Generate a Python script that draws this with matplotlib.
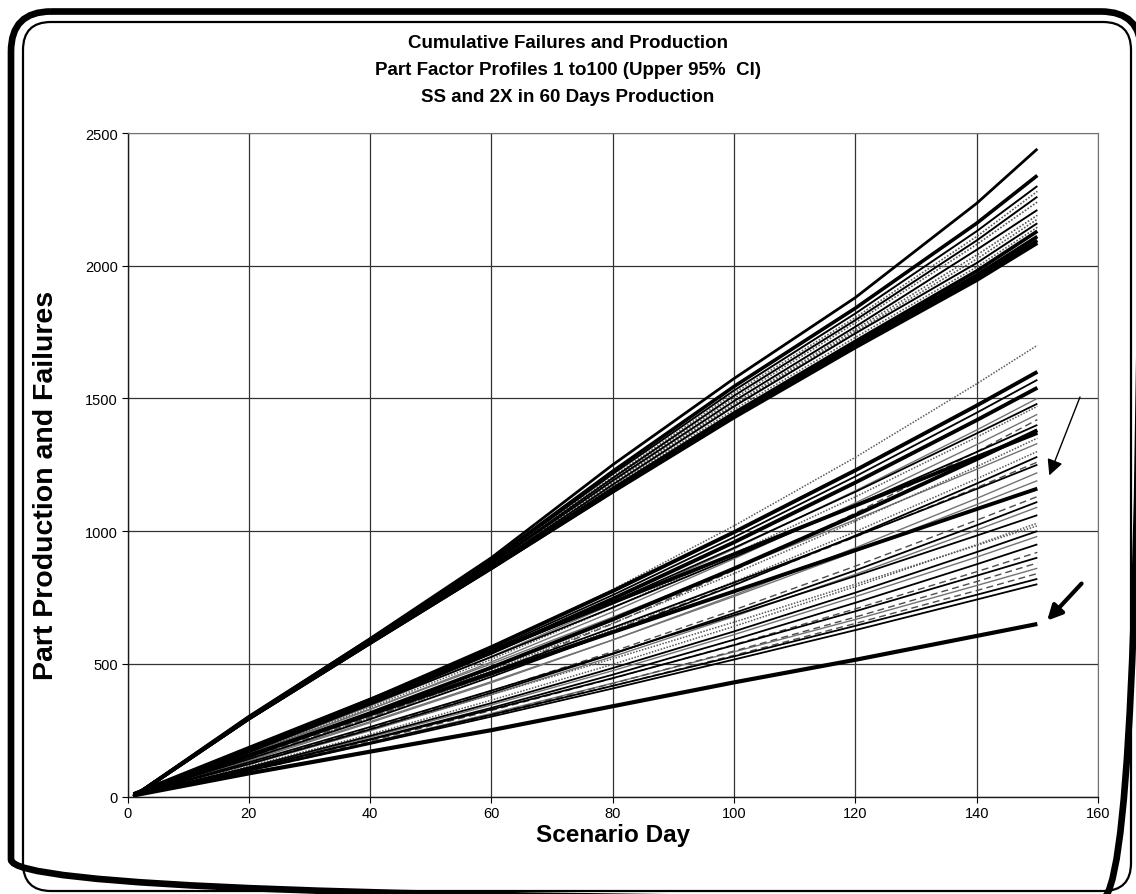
import matplotlib
matplotlib.use("Agg")
import matplotlib.pyplot as plt
from matplotlib.patches import FancyBboxPatch

plt.rcParams['font.family'] = ['Liberation Sans', 'DejaVu Sans']

days = [1, 20, 40, 60, 80, 100, 120, 140, 150]

# ---- upper bundle (production)
upper_top = [[0, 300, 595, 900, 1250, 1575, 1880, 2235, 2440]]
upper_thick = [
    [0, 300, 592, 890, 1225, 1545, 1840, 2160, 2340],
    [0, 294, 580, 865, 1160, 1445, 1715, 1980, 2130],
    [0, 294, 579, 862, 1155, 1440, 1705, 1965, 2110],
    [0, 293, 578, 860, 1150, 1432, 1698, 1955, 2095],
    [0, 293, 578, 860, 1148, 1428, 1692, 1945, 2085],
]
upper_black = [
    [0, 298, 590, 885, 1215, 1530, 1820, 2130, 2300],
    [0, 297, 588, 880, 1200, 1510, 1795, 2095, 2260],
    [0, 296, 585, 876, 1190, 1490, 1770, 2060, 2210],
    [0, 295, 582, 870, 1175, 1470, 1745, 2010, 2160],
]
upper_grey = [
    [0, 298, 588, 882, 1205, 1520, 1805, 2110, 2280],
    [0, 297, 586, 878, 1195, 1500, 1785, 2080, 2240],
    [0, 296, 584, 874, 1185, 1480, 1760, 2040, 2190],
    [0, 295, 583, 872, 1180, 1475, 1752, 2025, 2175],
    [0, 294, 581, 868, 1168, 1458, 1730, 1995, 2145],
]

# ---- lower fan (failures)
lower_thick = [
    [8, 176, 364, 563, 774, 996, 1229, 1473, 1600],
    [8, 170, 351, 542, 745, 958, 1183, 1418, 1540],
    [9, 183, 365, 548, 731, 913, 1096, 1279, 1370],
    [7, 152, 314, 486, 667, 859, 1060, 1271, 1380],
    [8, 155, 309, 464, 619, 773, 928, 1083, 1160],
]
lower_black = [
    [8, 173, 357, 553, 759, 977, 1206, 1446, 1570],
    [8, 172, 351, 539, 734, 937, 1148, 1368, 1480],
    [8, 171, 346, 526, 712, 902, 1098, 1298, 1400],
    [7, 141, 291, 451, 619, 796, 983, 1179, 1280],
    [8, 152, 309, 470, 636, 806, 980, 1159, 1250],
    [6, 122, 253, 391, 537, 691, 852, 1022, 1110],
    [6, 129, 262, 399, 539, 683, 831, 983, 1060],
    [5, 110, 228, 352, 484, 622, 768, 921, 1000],
    [5, 105, 216, 334, 459, 591, 730, 875, 950],
    [5, 104, 214, 328, 446, 570, 698, 832, 900],
    [5, 100, 203, 308, 417, 528, 643, 760, 820],
    [5, 97, 198, 301, 407, 516, 627, 742, 800],
]
lower_dotted = [
    [8, 168, 354, 558, 780, 1020, 1278, 1555, 1700],
    [8, 162, 335, 517, 711, 915, 1129, 1354, 1470],
    [7, 149, 307, 475, 653, 840, 1037, 1243, 1350],
    [7, 143, 296, 458, 629, 809, 998, 1197, 1300],
    [5, 114, 234, 363, 498, 641, 791, 949, 1030],
    [6, 124, 252, 384, 519, 657, 800, 946, 1020],
]
lower_dashed = [
    [7, 140, 295, 466, 651, 852, 1068, 1299, 1420],
    [7, 146, 299, 459, 625, 798, 978, 1164, 1260],
    [6, 125, 257, 398, 546, 703, 868, 1041, 1130],
    [5, 101, 209, 324, 445, 572, 707, 847, 920],
    [5, 97, 200, 310, 426, 548, 676, 810, 880],
    [5, 97, 199, 306, 417, 532, 652, 776, 840],
]
lower_grey = [
    [8, 165, 341, 528, 725, 933, 1152, 1381, 1500],
    [8, 159, 328, 507, 696, 896, 1106, 1326, 1440],
    [8, 162, 329, 500, 676, 857, 1043, 1233, 1330],
    [6, 134, 278, 429, 590, 759, 937, 1123, 1220],
    [7, 138, 282, 433, 590, 754, 923, 1100, 1190],
    [6, 120, 248, 384, 527, 678, 837, 1004, 1090],
    [5, 108, 223, 345, 474, 610, 753, 902, 980],
    [5, 100, 204, 313, 427, 545, 667, 795, 860],
]
base_line = [4, 87, 169, 250, 340, 430, 515, 605, 650]

title_lines = ["Cumulative Failures and Production",
               "Part Factor Profiles 1 to100 (Upper 95%  CI)",
               "SS and 2X in 60 Days Production"]

W, H = 1136, 895
fig = plt.figure(figsize=(W / 100, H / 100), dpi=100)

# rounded double frame, drawn in pixel coords
bg = fig.add_axes([0, 0, 1, 1], zorder=0)
bg.set_xlim(0, W)
bg.set_ylim(H, 0)
bg.axis('off')
bg.add_patch(FancyBboxPatch((11, 12.5), 1130, 888, boxstyle="round,pad=0,rounding_size=40",
                            fc='none', ec='black', lw=4.8))
bg.add_patch(FancyBboxPatch((23, 23), 1108, 869, boxstyle="round,pad=0,rounding_size=28",
                            fc='none', ec='black', lw=1.6))

for i, t in enumerate(title_lines):
    bg.text(568, 43 + 27 * i, t, ha='center', va='center', fontsize=13.5, fontweight='bold')

ax = fig.add_axes([127.5 / W, 1 - 797.5 / H, 970.5 / W, 663.5 / H], zorder=1)

def draw(group, **kw):
    for vals in group:
        ax.plot(days, vals, solid_capstyle='butt', **kw)

draw(lower_grey, color='0.45', lw=1.0)
draw(lower_dashed, color='0.3', lw=1.0, ls=(0, (5, 3)))
draw(lower_dotted, color='0.35', lw=1.1, ls=(0, (1, 1)))
draw(lower_black, color='black', lw=1.3)
draw(lower_thick, color='black', lw=2.8)
draw([base_line], color='black', lw=3.0)

draw(upper_grey, color='0.35', lw=1.2, ls=(0, (1, 1)))
draw(upper_black, color='black', lw=1.4)
draw(upper_thick, color='black', lw=2.6)
draw(upper_top, color='black', lw=2.0)

# arrows pointing at the two highlighted groups
ax.annotate('', xy=(151.8, 1200), xytext=(157.2, 1515),
            arrowprops=dict(arrowstyle='-|>', color='black', lw=1.0, mutation_scale=24))
ax.annotate('', xy=(151.3, 655), xytext=(157.6, 810),
            arrowprops=dict(arrowstyle='-|>', color='black', lw=3.0, mutation_scale=22))

ax.set_xlim(0, 160)
ax.set_ylim(0, 2500)
ax.set_xticks(range(0, 161, 20))
ax.set_yticks(range(0, 2501, 500))
ax.grid(True, color='0.2', lw=0.9)
ax.set_axisbelow(True)
for side in ['top', 'right']:
    ax.spines[side].set_color('0.45')
    ax.spines[side].set_linestyle((0, (2, 1)))
    ax.spines[side].set_linewidth(0.8)
for side in ['left', 'bottom']:
    ax.spines[side].set_color('0.1')
    ax.spines[side].set_linewidth(1.0)
ax.tick_params(direction='out', length=4, width=0.8, labelsize=10.5, pad=3)

ax.set_xlabel('Scenario Day', fontsize=17.5, fontweight='bold', labelpad=2)
ax.set_ylabel('Part Production and Failures', fontsize=20.5, fontweight='bold', va='center')
ax.yaxis.set_label_coords(-0.084, 0.47)

fig.savefig('out.png', dpi=100)
